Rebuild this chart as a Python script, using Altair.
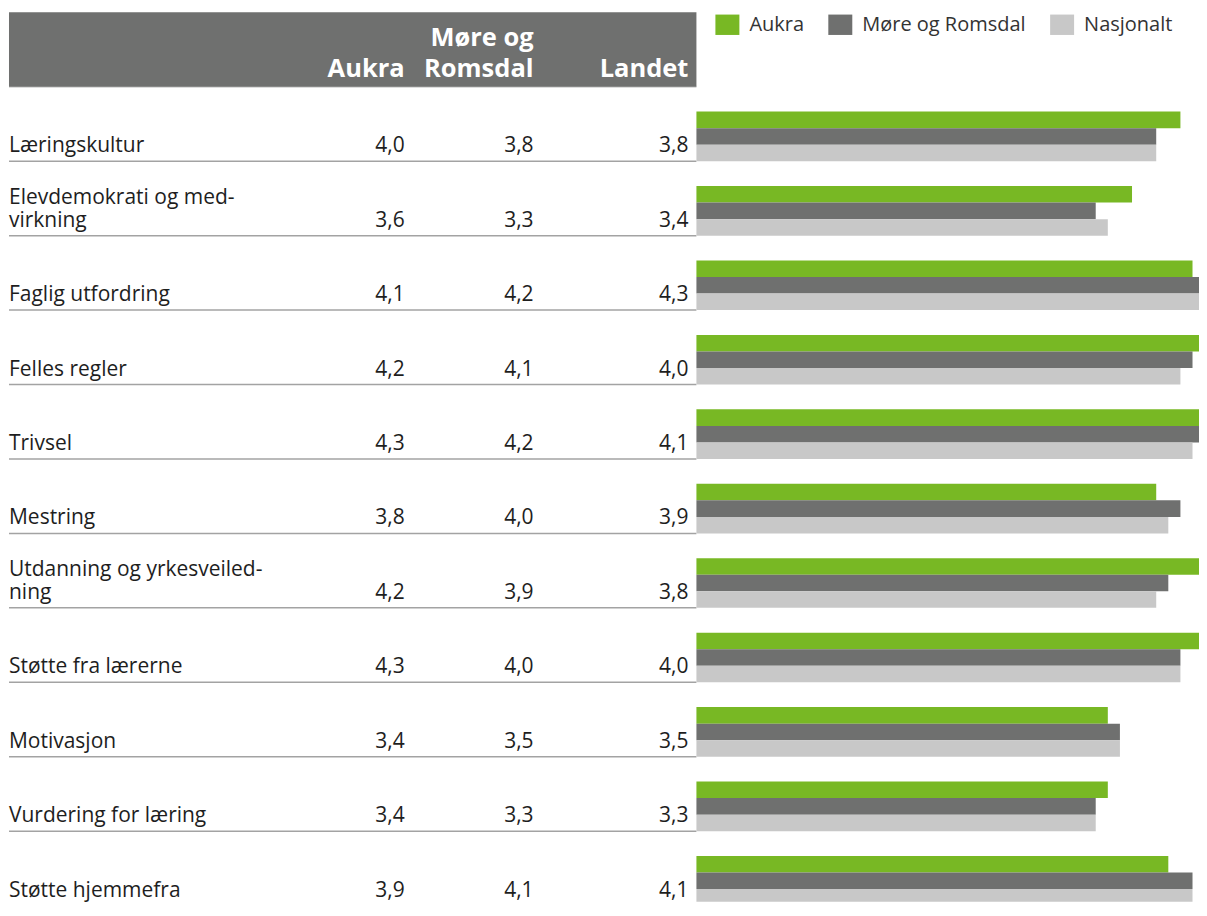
import altair as alt
import pandas as pd

# ---------------- data ----------------
categories = [
    "Læringskultur",
    "Elevdemokrati og med-\nvirkning",
    "Faglig utfordring",
    "Felles regler",
    "Trivsel",
    "Mestring",
    "Utdanning og yrkesveiled-\nning",
    "Støtte fra lærerne",
    "Motivasjon",
    "Vurdering for læring",
    "Støtte hjemmefra",
]
aukra = [4.0, 3.6, 4.1, 4.2, 4.3, 3.8, 4.2, 4.3, 3.4, 3.4, 3.9]
more_romsdal = [3.8, 3.3, 4.2, 4.1, 4.2, 4.0, 3.9, 4.0, 3.5, 3.3, 4.1]
landet = [3.8, 3.4, 4.3, 4.0, 4.1, 3.9, 3.8, 4.0, 3.5, 3.3, 4.1]

table_columns = ["Aukra", "Møre og Romsdal", "Landet"]
table_headers = ["Aukra", "Møre og\nRomsdal", "Landet"]
series_names = ["Aukra", "Møre og Romsdal", "Nasjonalt"]
series_colors = ["#78b824", "#6f706f", "#c8c8c8"]

# ---------------- layout / style ----------------
HEADER_KEY = "_header"
FONT = "Open Sans"
TABLE_W = 688
VIEW_W = 1191
STEP = 74.5
N_BANDS = len(categories) + 1
VIEW_H = 890
X_MAX = (VIEW_W - TABLE_W) / 121.1
col_x = {"Aukra": 396, "Møre og Romsdal": 525, "Landet": 680}


def two_lines(s):
    parts = s.split("\n")
    return ([""] + parts) if len(parts) == 1 else parts


# ---------------- tables built from the lists ----------------
rows = pd.DataFrame({"cat": categories, "lines": [two_lines(c) for c in categories]})

value_lists = {"Aukra": aukra, "Møre og Romsdal": more_romsdal, "Landet": landet}
cells = pd.DataFrame([
    {"cat": c, "col": col, "txt": f"{v:.1f}".replace(".", ",")}
    for col, vals in value_lists.items()
    for c, v in zip(categories, vals)
])

header = pd.DataFrame([
    {"cat": HEADER_KEY, "col": col, "lines": two_lines(h)}
    for col, h in zip(table_columns, table_headers)
])

bars = pd.DataFrame([
    {"cat": c, "series": s, "value": v}
    for s, vals in zip(series_names, [aukra, more_romsdal, landet])
    for c, v in zip(categories, vals)
])

y_domain = [HEADER_KEY] + categories
yscale = alt.Scale(domain=y_domain, paddingInner=0, paddingOuter=0,
                   range=[0, STEP * N_BANDS])


def Y(bp=None):
    if bp is None:
        return alt.Y("cat:N", scale=yscale, axis=None, sort=None)
    return alt.Y("cat:N", scale=yscale, axis=None, sort=None, bandPosition=bp)


header_src = pd.DataFrame({"cat": [HEADER_KEY]})

header_line = alt.Chart(header_src).mark_rule(color="#d0d0d0", strokeWidth=2).encode(
    y=Y(1), x=alt.value(0), x2=alt.value(TABLE_W)
)
header_rect = alt.Chart(header_src).mark_rect(color="#6f706f").encode(
    y=Y(), x=alt.value(0), x2=alt.value(TABLE_W)
)

separators = alt.Chart(rows).mark_rule(color="#a3a3a3", strokeWidth=1.5, clip=True).encode(
    y=Y(1), x=alt.value(0), x2=alt.value(TABLE_W)
)

labels = alt.Chart(rows).mark_text(
    align="left", baseline="alphabetic", dy=-32, lineHeight=23,
    font=FONT, fontSize=21, color="#1e1e1e"
).encode(y=Y(1), x=alt.value(0), text="lines")

layers = [header_line, header_rect, separators, labels]

for col in table_columns:
    layers.append(
        alt.Chart(cells).transform_filter(alt.datum.col == col).mark_text(
            align="right", baseline="alphabetic", dy=-9, font=FONT, fontSize=21, color="#1e1e1e"
        ).encode(y=Y(1), x=alt.value(col_x[col]), text="txt:N")
    )
    layers.append(
        alt.Chart(header).transform_filter(alt.datum.col == col).mark_text(
            align="right", baseline="alphabetic", dy=-41, lineHeight=31, font=FONT,
            fontSize=25.5, fontWeight="bold", color="white"
        ).encode(y=Y(1), x=alt.value(col_x[col]), text="lines")
    )

bar_layer = alt.Chart(bars).mark_bar(clip=True).encode(
    x=alt.X("value:Q", axis=None,
            scale=alt.Scale(domain=[0, X_MAX], range=[TABLE_W, VIEW_W], nice=False, zero=True)),
    y=Y(),
    yOffset=alt.YOffset("series:N", sort=series_names,
                        scale=alt.Scale(domain=series_names, paddingInner=0,
                                        paddingOuter=0.75, align=1)),
    color=alt.Color(
        "series:N",
        scale=alt.Scale(domain=series_names, range=series_colors),
        legend=alt.Legend(
            title=None, orient="none", legendX=707, legendY=0, direction="horizontal",
            symbolType="M-1,-0.85H1V0.85H-1Z", symbolSize=576, symbolStrokeWidth=0,
            symbolOpacity=1, labelFont=FONT, labelFontSize=20, labelColor="#333333",
            labelOffset=10, columnPadding=24, padding=0, labelLimit=400,
        ),
    ),
)
layers.append(bar_layer)

chart = alt.layer(*layers).properties(
    width=VIEW_W, height=VIEW_H,
    padding={"top": 4, "left": 0, "right": 0, "bottom": 0},
).configure_view(stroke=None)

chart.save("out.html", embed_options={"renderer": "svg", "actions": False})
